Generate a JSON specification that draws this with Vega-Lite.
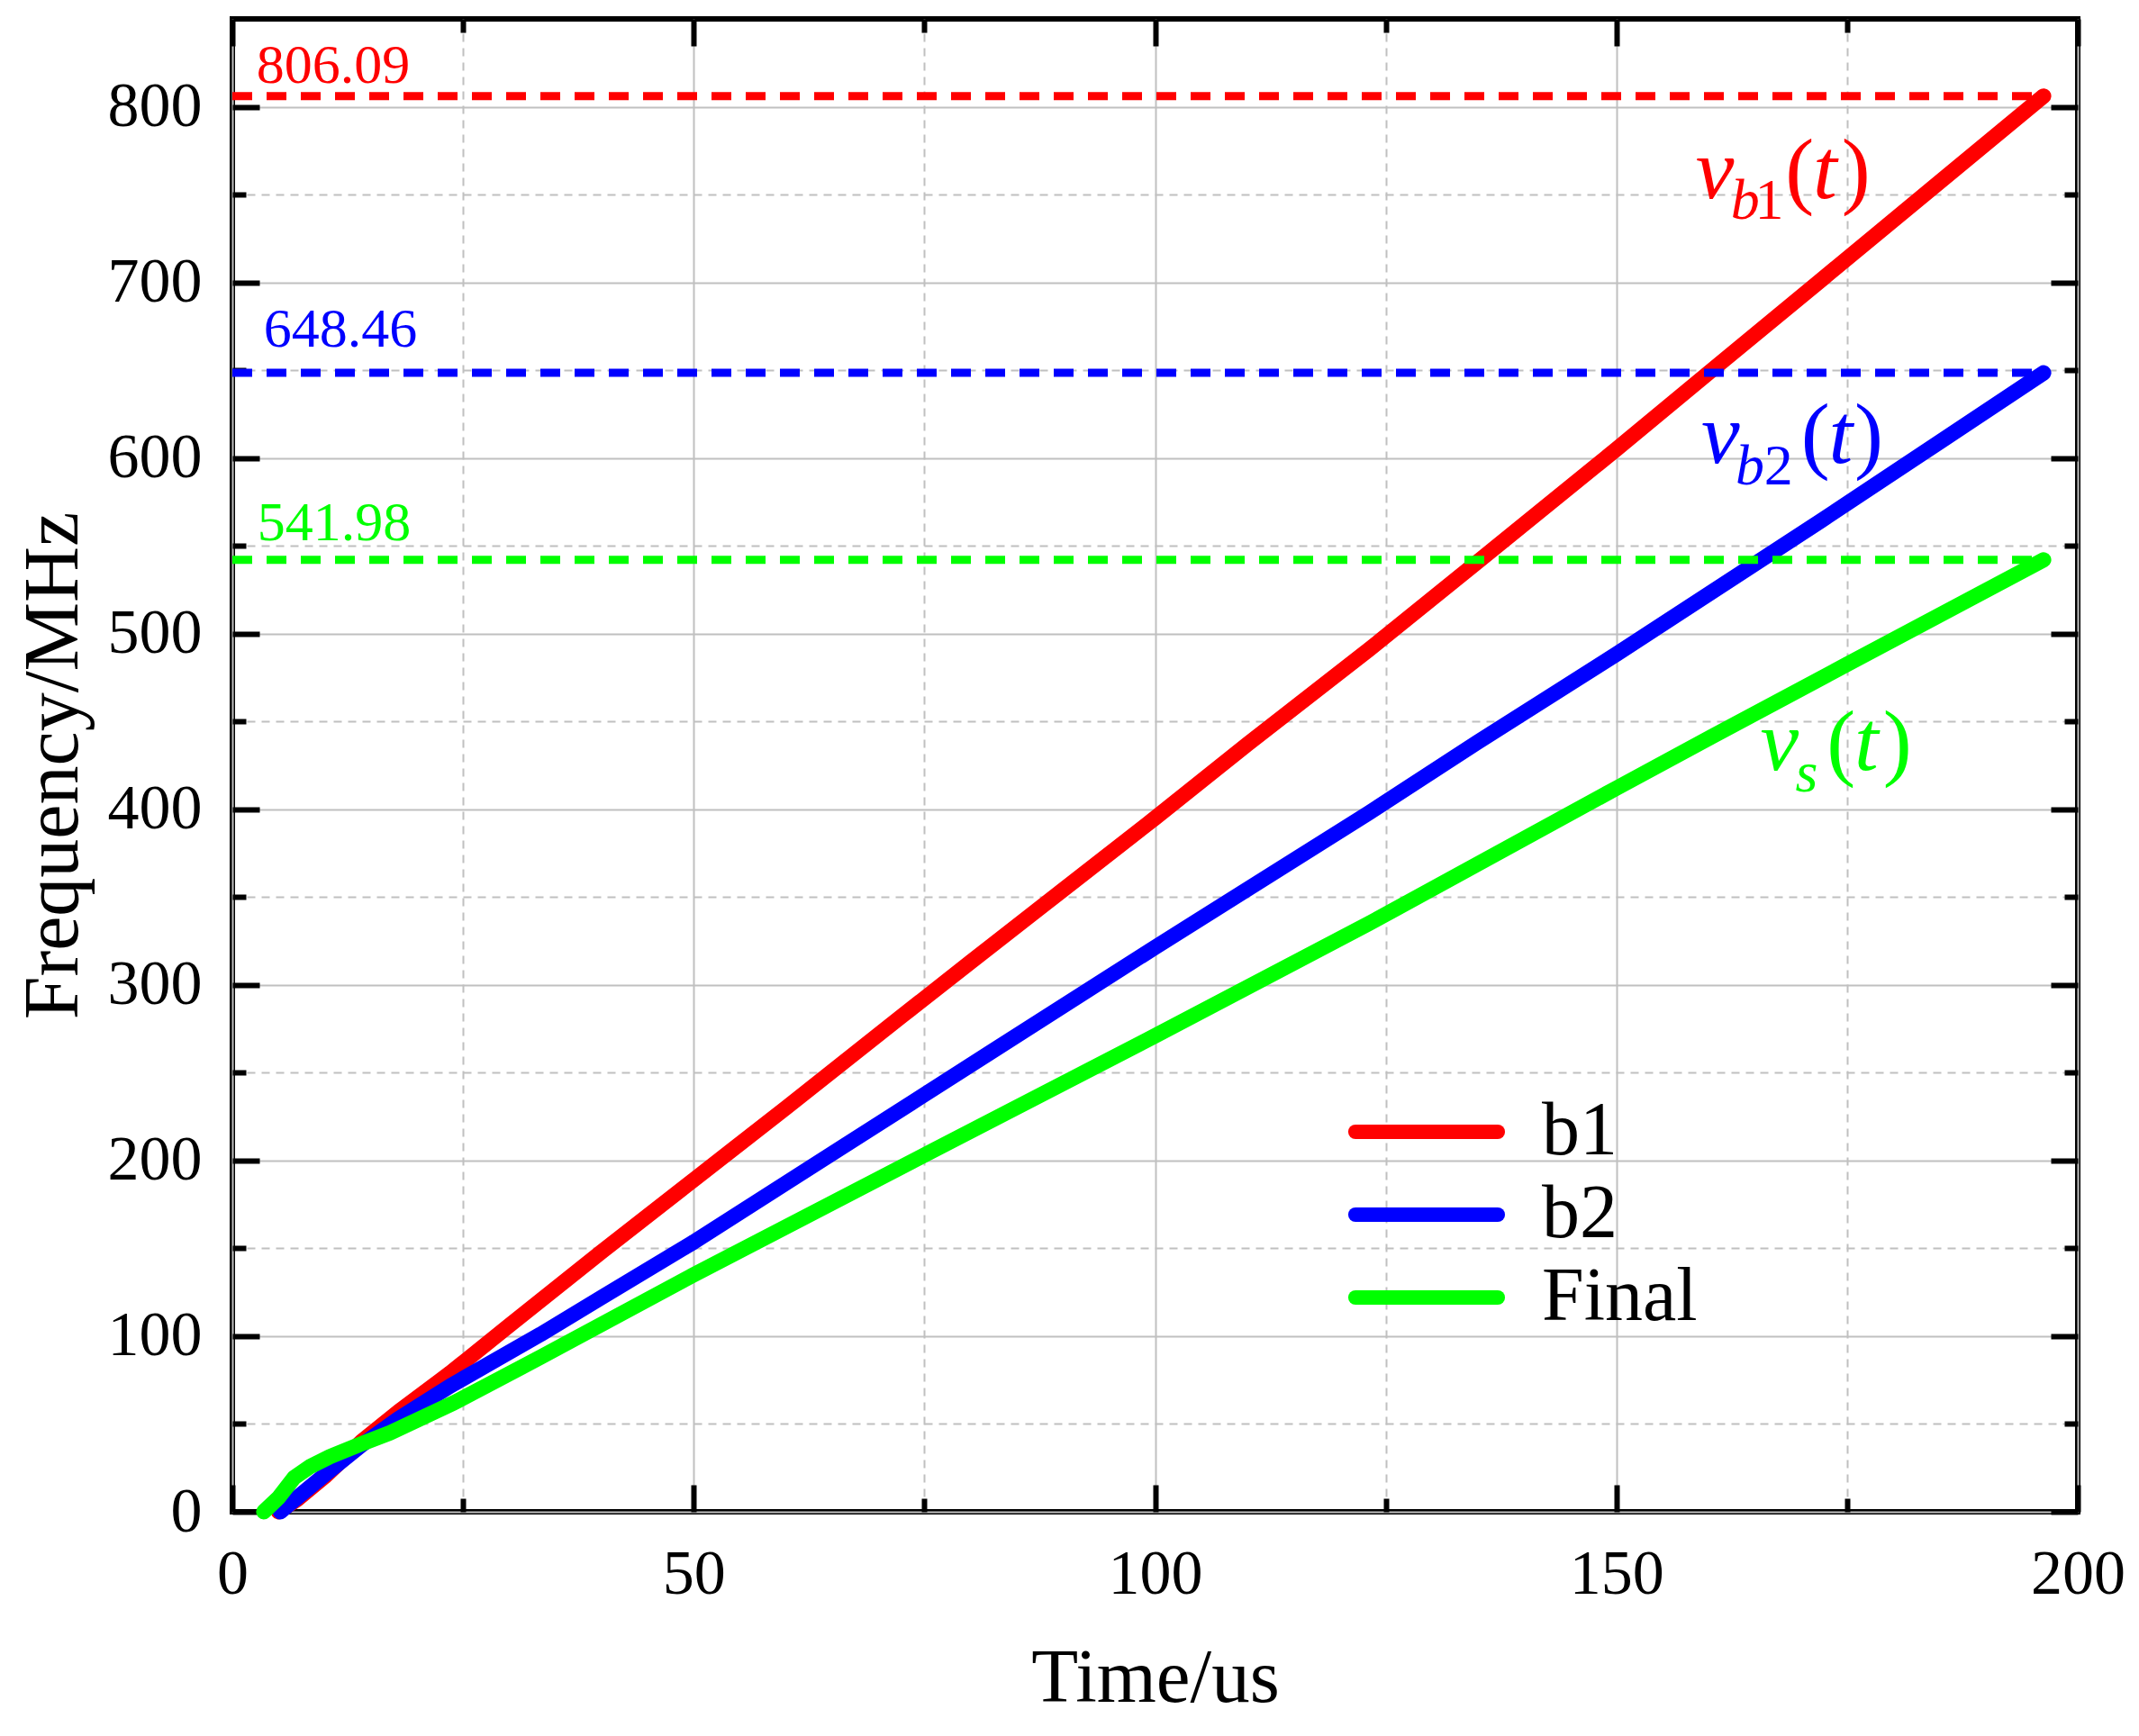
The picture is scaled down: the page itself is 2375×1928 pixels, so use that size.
{
  "$schema": "https://vega.github.io/schema/vega-lite/v6.json",
  "width": 2049,
  "height": 1658,
  "autosize": {"type": "none"},
  "padding": {"left": 258, "top": 21, "right": 68, "bottom": 249},
  "background": "white",
  "config": {
    "view": {"stroke": "black", "strokeWidth": 6},
    "text": {"font": "Liberation Serif"}
  },
  "datasets": {
    "curves": [
      {"series": "b1", "t": 5.0, "f": 0},
      {"series": "b1", "t": 7, "f": 7},
      {"series": "b1", "t": 10, "f": 20},
      {"series": "b1", "t": 14, "f": 40},
      {"series": "b1", "t": 18, "f": 57},
      {"series": "b1", "t": 23.6, "f": 79},
      {"series": "b1", "t": 30, "f": 106},
      {"series": "b1", "t": 40, "f": 148},
      {"series": "b1", "t": 50, "f": 189},
      {"series": "b1", "t": 60, "f": 230},
      {"series": "b1", "t": 72.5, "f": 282},
      {"series": "b1", "t": 80, "f": 313},
      {"series": "b1", "t": 90, "f": 354},
      {"series": "b1", "t": 100, "f": 395},
      {"series": "b1", "t": 110, "f": 437},
      {"series": "b1", "t": 123.2, "f": 491},
      {"series": "b1", "t": 135, "f": 541},
      {"series": "b1", "t": 150, "f": 605},
      {"series": "b1", "t": 160, "f": 648.5},
      {"series": "b1", "t": 172, "f": 700.5},
      {"series": "b1", "t": 185, "f": 757},
      {"series": "b1", "t": 196.3, "f": 806.09},
      {"series": "b2", "t": 5.2, "f": 0},
      {"series": "b2", "t": 7, "f": 8},
      {"series": "b2", "t": 10, "f": 21},
      {"series": "b2", "t": 14, "f": 38},
      {"series": "b2", "t": 18, "f": 53},
      {"series": "b2", "t": 23.6, "f": 71.6},
      {"series": "b2", "t": 33.4, "f": 101},
      {"series": "b2", "t": 40, "f": 122},
      {"series": "b2", "t": 50, "f": 153.6},
      {"series": "b2", "t": 60, "f": 187.2},
      {"series": "b2", "t": 74.4, "f": 235.5},
      {"series": "b2", "t": 82.2, "f": 261.7},
      {"series": "b2", "t": 100, "f": 321.4},
      {"series": "b2", "t": 123.2, "f": 398},
      {"series": "b2", "t": 134.9, "f": 438},
      {"series": "b2", "t": 150, "f": 488.3},
      {"series": "b2", "t": 172.1, "f": 564},
      {"series": "b2", "t": 185, "f": 609},
      {"series": "b2", "t": 196.3, "f": 648.46},
      {"series": "Final", "t": 3.4, "f": 0},
      {"series": "Final", "t": 5, "f": 8},
      {"series": "Final", "t": 6.7, "f": 19.5},
      {"series": "Final", "t": 8.5, "f": 26},
      {"series": "Final", "t": 10.6, "f": 31.5},
      {"series": "Final", "t": 13.9, "f": 38.5},
      {"series": "Final", "t": 17.1, "f": 45},
      {"series": "Final", "t": 24, "f": 62},
      {"series": "Final", "t": 33.4, "f": 88},
      {"series": "Final", "t": 50, "f": 135},
      {"series": "Final", "t": 74.4, "f": 201.5},
      {"series": "Final", "t": 100, "f": 271},
      {"series": "Final", "t": 123.2, "f": 335},
      {"series": "Final", "t": 150, "f": 412},
      {"series": "Final", "t": 160.4, "f": 441.5},
      {"series": "Final", "t": 175, "f": 482.5},
      {"series": "Final", "t": 196.3, "f": 541.98}
    ],
    "finals": [
      {"series": "b1", "t0": 0, "t1": 196.3, "f": 806.09, "label": "806.09", "lt": 2.6, "lf": 813.8},
      {"series": "b2", "t0": 0, "t1": 196.3, "f": 648.46, "label": "648.46", "lt": 3.4, "lf": 663.5},
      {"series": "Final", "t0": 0, "t1": 196.3, "f": 541.98, "label": "541.98", "lt": 2.7, "lf": 553.2}
    ],
    "italicBig": [
      {"series": "b1", "s": "v", "t": 158.6, "f": 748},
      {"series": "b1", "s": "t", "t": 171.3, "f": 748},
      {"series": "b2", "s": "v", "t": 159.2, "f": 597},
      {"series": "b2", "s": "t", "t": 173, "f": 597},
      {"series": "Final", "s": "v", "t": 165.6, "f": 422.3},
      {"series": "Final", "s": "t", "t": 175.8, "f": 422.3}
    ],
    "uprightBig": [
      {"series": "b1", "s": "(", "t": 168.3, "f": 748},
      {"series": "b1", "s": ")", "t": 174.4, "f": 748},
      {"series": "b2", "s": "(", "t": 170, "f": 597},
      {"series": "b2", "s": ")", "t": 175.8, "f": 597},
      {"series": "Final", "s": "(", "t": 172.8, "f": 422.3},
      {"series": "Final", "s": ")", "t": 178.9, "f": 422.3}
    ],
    "italicSmall": [
      {"series": "b1", "s": "b", "t": 162.4, "f": 736},
      {"series": "b2", "s": "b", "t": 162.9, "f": 585},
      {"series": "Final", "s": "s", "t": 169.4, "f": 410.3}
    ],
    "uprightSmall": [
      {"series": "b1", "s": "1", "t": 165.0, "f": 736},
      {"series": "b2", "s": "2", "t": 166, "f": 585}
    ]
  },
  "resolve": {"axis": {"x": "independent", "y": "independent"}},
  "layer": [
    {
      "data": {"name": "curves"},
      "mark": {"type": "line", "strokeWidth": 17, "strokeCap": "round", "strokeJoin": "round"},
      "encoding": {
        "x": {
          "field": "t", "type": "quantitative",
          "scale": {"domain": [0, 200], "nice": false},
          "axis": {
            "orient": "bottom",
            "values": [0, 25, 50, 75, 100, 125, 150, 175, 200],
            "title": "Time/us",
            "titleFont": "Liberation Serif", "titleFontSize": 85, "titleFontWeight": "normal", "titleColor": "black",
            "titlePadding": 24,
            "labelFont": "Liberation Serif", "labelFontSize": 70, "labelColor": "black",
            "labelExpr": "datum.value % 50 === 0 ? datum.label : ''",
            "labelPadding": 65, "labelFlush": false, "labelOverlap": false,
            "tickSize": {"condition": {"test": "datum.value % 50 === 0", "value": -30}, "value": -15},
            "tickWidth": 6, "tickColor": "black",
            "domain": false,
            "grid": true, "gridColor": "#c0c0c0", "gridWidth": 2,
            "gridDash": {"condition": {"test": "datum.value % 50 === 0", "value": []}, "value": [9, 7]}
          }
        },
        "y": {
          "field": "f", "type": "quantitative",
          "scale": {"domain": [0, 850], "nice": false},
          "axis": {
            "orient": "left",
            "values": [0, 50, 100, 150, 200, 250, 300, 350, 400, 450, 500, 550, 600, 650, 700, 750, 800],
            "title": "Frequency/MHz",
            "titleFont": "Liberation Serif", "titleFontSize": 86, "titleFontWeight": "normal", "titleColor": "black",
            "titlePadding": 16,
            "labelFont": "Liberation Serif", "labelFontSize": 70, "labelColor": "black",
            "labelExpr": "datum.value % 100 === 0 ? datum.label : ''",
            "labelPadding": 64, "labelFlush": false, "labelOverlap": false,
            "tickSize": {"condition": {"test": "datum.value % 100 === 0", "value": -30}, "value": -15},
            "tickWidth": 6, "tickColor": "black",
            "domain": false,
            "grid": true, "gridColor": "#c0c0c0", "gridWidth": 2,
            "gridDash": {"condition": {"test": "datum.value % 100 === 0", "value": []}, "value": [9, 7]}
          }
        },
        "color": {
          "field": "series", "type": "nominal", "sort": null,
          "scale": {"domain": ["b1", "b2", "Final"], "range": ["#ff0000", "#0000ff", "#00ff00"]},
          "legend": {
            "orient": "none", "legendX": 1284, "legendY": 1194,
            "title": null, "padding": 0,
            "symbolType": "M-5,0H5", "symbolSize": 1000, "symbolStrokeWidth": 16,
            "labelFont": "Liberation Serif", "labelFontSize": 84, "labelColor": "black",
            "labelOffset": 86, "labelLimit": 500, "rowPadding": 8,
            "encode": {"symbols": {"update": {"strokeCap": {"value": "round"}}}}
          }
        }
      }
    },
    {
      "data": {"name": "finals"},
      "mark": {"type": "rule", "strokeWidth": 9, "strokeDash": [22, 16]},
      "encoding": {
        "x": {
          "field": "t0", "type": "quantitative",
          "axis": {
            "orient": "top", "values": [0, 25, 50, 75, 100, 125, 150, 175, 200],
            "labels": false, "title": null, "domain": false, "grid": false,
            "tickSize": {"condition": {"test": "datum.value % 50 === 0", "value": -30}, "value": -15},
            "tickWidth": 6, "tickColor": "black"
          }
        },
        "x2": {"field": "t1"},
        "y": {
          "field": "f", "type": "quantitative",
          "axis": {
            "orient": "right", "values": [0, 50, 100, 150, 200, 250, 300, 350, 400, 450, 500, 550, 600, 650, 700, 750, 800],
            "labels": false, "title": null, "domain": false, "grid": false,
            "tickSize": {"condition": {"test": "datum.value % 100 === 0", "value": -30}, "value": -15},
            "tickWidth": 6, "tickColor": "black"
          }
        },
        "color": {"field": "series", "type": "nominal", "legend": null}
      }
    },
    {
      "data": {"name": "finals"},
      "mark": {"type": "text", "fontSize": 62, "align": "left", "baseline": "alphabetic", "font": "Liberation Serif"},
      "encoding": {
        "x": {"field": "lt", "type": "quantitative", "axis": null},
        "y": {"field": "lf", "type": "quantitative", "axis": null},
        "text": {"field": "label"},
        "color": {"field": "series", "type": "nominal", "legend": null}
      }
    },
    {
      "data": {"name": "italicBig"},
      "mark": {"type": "text", "fontSize": 96, "fontStyle": "italic", "align": "left", "baseline": "alphabetic", "font": "Liberation Serif"},
      "encoding": {
        "x": {"field": "t", "type": "quantitative", "axis": null},
        "y": {"field": "f", "type": "quantitative", "axis": null},
        "text": {"field": "s"},
        "color": {"field": "series", "type": "nominal", "legend": null}
      }
    },
    {
      "data": {"name": "uprightBig"},
      "mark": {"type": "text", "fontSize": 96, "align": "left", "baseline": "alphabetic", "font": "Liberation Serif"},
      "encoding": {
        "x": {"field": "t", "type": "quantitative", "axis": null},
        "y": {"field": "f", "type": "quantitative", "axis": null},
        "text": {"field": "s"},
        "color": {"field": "series", "type": "nominal", "legend": null}
      }
    },
    {
      "data": {"name": "italicSmall"},
      "mark": {"type": "text", "fontSize": 64, "fontStyle": "italic", "align": "left", "baseline": "alphabetic", "font": "Liberation Serif"},
      "encoding": {
        "x": {"field": "t", "type": "quantitative", "axis": null},
        "y": {"field": "f", "type": "quantitative", "axis": null},
        "text": {"field": "s"},
        "color": {"field": "series", "type": "nominal", "legend": null}
      }
    },
    {
      "data": {"name": "uprightSmall"},
      "mark": {"type": "text", "fontSize": 64, "align": "left", "baseline": "alphabetic", "font": "Liberation Serif"},
      "encoding": {
        "x": {"field": "t", "type": "quantitative", "axis": null},
        "y": {"field": "f", "type": "quantitative", "axis": null},
        "text": {"field": "s"},
        "color": {"field": "series", "type": "nominal", "legend": null}
      }
    }
  ]
}
